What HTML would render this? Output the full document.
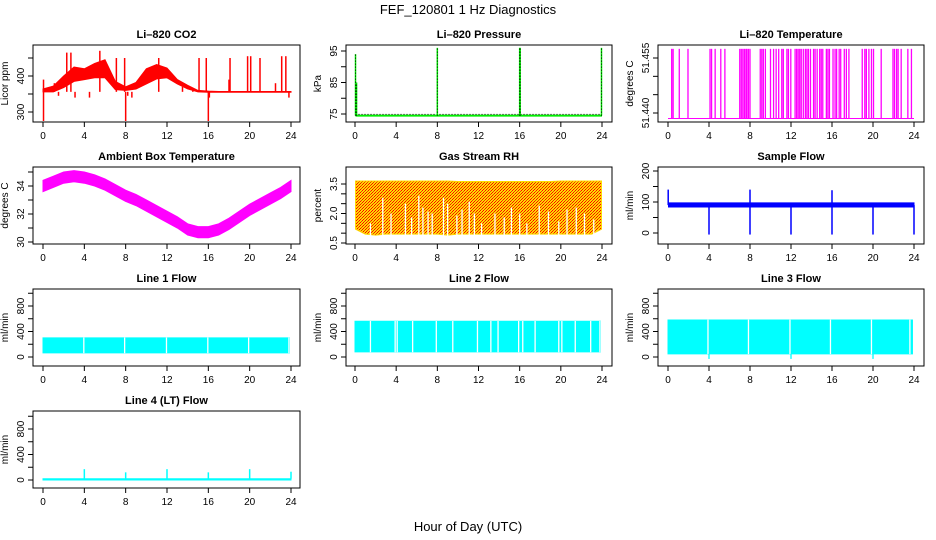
<!DOCTYPE html>
<html><head><meta charset="utf-8">
<style>
html,body{margin:0;padding:0;background:#fff;}
svg{display:block;font-family:"Liberation Sans",Arial,sans-serif;}
</style></head>
<body>
<svg id="fig" width="936" height="540" viewBox="0 0 936 540" xmlns="http://www.w3.org/2000/svg">
<defs>
<pattern id="rhpat" width="3" height="3" patternUnits="userSpaceOnUse">
<rect width="3" height="3" fill="#ffd800"/>
<rect x="0" y="0" width="1" height="1" fill="#f00"/>
<rect x="2" y="1" width="1" height="1" fill="#f00"/>
<rect x="1" y="2" width="1" height="1" fill="#e04000"/>
</pattern>
</defs>
<text x="468" y="14" font-size="13" text-anchor="middle">FEF_120801  1 Hz Diagnostics</text>
<text x="468" y="531" font-size="13" text-anchor="middle">Hour of Day (UTC)</text>
</svg>
<script>
// ---------- data ----------
const hourCats = [0,1,2,3,4,5,6,7,8,9,10,11,12,13,14,15,16,17,18,19,20,21,22,23,24];
const co2Lo = [356,356,368,385,390,395,395,362,360,364,378,392,395,378,364,356,355,355,355,355,355,355,355,355,355];
const co2Hi = [364,372,400,425,420,435,445,385,370,382,420,432,422,390,374,360,358,357,357,357,357,357,357,357,357];
const co2SpikeT = [0.05,0.05,1.1,1.5,2.3,2.7,3.1,4.5,5.5,7.1,7.9,8.0,8.2,8.6,11.2,13.5,14.5,15.1,15.8,16.0,16.1,18.0,18.1,19.8,20.1,21.0,22.5,23.1,23.5,23.8];
const co2SpikeV = [390,275,380,345,465,465,340,340,470,450,450,275,345,340,450,370,360,450,450,275,340,390,450,455,455,450,380,455,455,340];
const presBase = 74.5;
const presSpikeT = [0.05,0.15,8.0,16.0,16.05,23.95];
const presSpikeV = [94,85,96,96,96,96];
const tempBase = 51.4385;
const tempTop = 51.4575;
const tempSpikeT = [0.36,0.5,1.1,1.95,4.1,4.25,4.6,5.15,5.55,7.0,7.15,7.3,7.45,7.6,7.7,7.85,8.0,9.0,9.15,9.3,9.5,10.0,10.3,10.55,10.8,11.1,11.25,11.6,11.75,11.98,12.4,12.55,12.7,12.85,13.0,13.2,13.4,13.55,13.7,13.9,14.2,14.35,14.55,14.8,14.95,15.1,15.45,15.6,15.75,16.1,16.3,16.45,16.7,16.85,17.2,17.4,17.65,18.95,19.2,19.35,19.6,19.85,20.05,20.8,21.95,22.1,22.3,22.45,22.75,23.4,23.75];
const ambMid = [34.0,34.3,34.6,34.7,34.6,34.4,34.1,33.7,33.3,33.0,32.6,32.2,31.8,31.4,30.9,30.7,30.7,30.9,31.3,31.8,32.3,32.7,33.1,33.5,34.0];
const ambHalf = 0.4;
const rhLo = [1.2,0.95,0.9,0.95,0.95,0.95,0.95,0.95,0.95,0.9,0.95,0.95,0.95,0.95,0.95,0.95,0.95,0.95,0.95,0.95,0.95,0.95,0.95,0.95,1.2];
const rhHi = [3.65,3.65,3.65,3.65,3.65,3.65,3.65,3.65,3.65,3.65,3.63,3.63,3.63,3.63,3.63,3.63,3.63,3.63,3.63,3.63,3.65,3.65,3.65,3.65,3.65];
const rhGapT = [1.5,2.7,3.5,4.9,5.5,6.2,6.6,7.1,7.5,8.6,9.0,9.9,10.4,11.1,11.6,12.3,13.6,14.5,15.2,16.0,16.7,17.9,18.8,19.8,20.6,21.5,22.3,23.2];
const rhGapV = [1.5,2.8,2.0,2.5,1.8,2.9,2.3,2.1,2.0,2.8,2.5,1.9,2.2,2.6,2.0,1.5,2.0,1.8,2.3,2.0,1.5,2.4,2.1,1.6,2.2,2.3,2.0,1.7];
const sfLo = 84, sfHi = 97;
const sfSpikeT = [0.02,4.0,8.0,8.0,12.0,16.0,16.0,20.0,24.0];
const sfSpikeV = [140,-5,140,-5,-5,138,-5,-5,-5];
const l1Lo = 65, l1Hi = 300;
const l1GapT = [3.95,7.9,11.95,15.95,19.9,23.8];
const l2Lo = 80, l2Hi = 560;
const l2GapT = [1.5,3.9,4.1,5.6,7.9,9.5,11.9,13.2,13.9,15.9,16.3,17.5,19.8,20.1,21.4,22.9,23.8];
const l3Lo = 50, l3Hi = 580;
const l3GapT = [3.9,7.85,11.9,15.85,19.85,23.6];
const l3DipT = [4.0,12.0,20.0];
const l3DipV = [-30,-30,-30];
const l4Lo = 0, l4Hi = 20;
const l4SpikeT = [4.0,8.0,12.0,16.0,20.0,24.0];
const l4SpikeV = [170,120,170,120,170,130];
const xTicks = [0,4,8,12,16,20,24];

// ---------- layout ----------
const svg = document.getElementById('fig');
const NS = 'http://www.w3.org/2000/svg';
const cols = [{bl:33,br:300,x0:43,x24:291},{bl:346,br:612,x0:355,x24:602},{bl:658,br:924,x0:668,x24:914}];
const rows = [{t:45,b:122},{t:167,b:244},{t:289,b:366},{t:411,b:488}];
function mk(tag, attrs, parent){const e=document.createElementNS(NS,tag);for(const k in attrs)e.setAttribute(k,attrs[k]);(parent||svg).appendChild(e);return e;}

function panel(name,title,ylab,c,r,v1,y1,v2,y2,ticks,labels){
  const col=cols[c],row=rows[r];
  const g=mk('g',{});
  
  
  const p={g:g,col:col,row:row};
  p.x=t=>col.x0+(col.x24-col.x0)*t/24;
  p.y=v=>y1+(y2-y1)*(v-v1)/(v2-v1);
  const box=mk('rect',{x:col.bl,y:row.t,width:col.br-col.bl,height:row.b-row.t,fill:'none',stroke:'#000','stroke-width':1},g);
  
  
  const tt=mk('text',{x:(col.bl+col.br)/2,y:row.t-7,'font-size':11,'font-weight':'bold','text-anchor':'middle'},g);
  tt.textContent=title;
  
  
  const xa=mk('g',{},g);
  
  
  mk('line',{x1:p.x(0),x2:p.x(24),y1:row.b,y2:row.b,stroke:'#000'},xa);
  xTicks.forEach(t=>{
    mk('line',{x1:p.x(t),x2:p.x(t),y1:row.b,y2:row.b+5,stroke:'#000'},xa);
    const lt=mk('text',{x:p.x(t),y:row.b+17,'font-size':10,'text-anchor':'middle'},xa);
    lt.textContent=t;
  });
  const ya=mk('g',{},g);
  
  
  mk('line',{x1:col.bl,x2:col.bl,y1:p.y(ticks[0]),y2:p.y(ticks[ticks.length-1]),stroke:'#000'},ya);
  ticks.forEach(v=>{
    mk('line',{x1:col.bl-5,x2:col.bl,y1:p.y(v),y2:p.y(v),stroke:'#000'},ya);
  });
  labels.forEach(v=>{
    const yy=p.y(v), xx=col.bl-9;
    const lt=mk('text',{x:xx,y:yy,'font-size':10,'text-anchor':'middle',transform:'rotate(-90 '+xx+' '+yy+')'},ya);
    lt.textContent=(name==='li820-temperature')?v.toFixed(3):(name==='gas-stream-rh'?v.toFixed(1):v);
  });
  const yl=col.bl-25, ym=(row.t+row.b)/2;
  const yt=mk('text',{x:yl,y:ym,'font-size':10,'text-anchor':'middle',transform:'rotate(-90 '+yl+' '+ym+')'},g);
  yt.textContent=ylab;
  
  
  return p;
}
function band(p,name,ts,lo,hi,color,fill){
  let d='M'+ts.map((t,i)=>p.x(t)+','+p.y(hi[i])).join('L');
  d+='L'+ts.slice().reverse().map((t,i)=>p.x(t)+','+p.y(lo[ts.length-1-i])).join('L')+'Z';
  const e=mk('path',{d:d,fill:fill||color,stroke:color,'stroke-width':1},p.g);
  
  
  return e;
}
function spikes(p,name,ts,vs,base,color,w,dash){
  ts.forEach((t,i)=>{
    const e=mk('line',{x1:p.x(t),x2:p.x(t),y1:p.y(base),y2:p.y(vs[i]),stroke:color,'stroke-width':w||1},p.g);
    if(dash)e.setAttribute('stroke-dasharray',dash);
    
    
  });
}
function flat(p,lo,hi){return [hourCats.map(()=>lo),hourCats.map(()=>hi)];}

// ---- CO2
let p=panel('li820-co2','Li\u2013820 CO2','Licor ppm',0,0,300,112,400,76,[300,350,400,450],[300,400]);
band(p,'co2-series',hourCats,co2Lo,co2Hi,'#ff0000');
spikes(p,'co2-spike',co2SpikeT,co2SpikeV,356,'#ff0000',1.5);
// ---- Pressure
p=panel('li820-pressure','Li\u2013820 Pressure','kPa',1,0,75,114,95,51,[75,80,85,90,95],[75,85,95]);
mk('line',{x1:p.x(0.05),x2:p.x(24),y1:p.y(presBase),y2:p.y(presBase),stroke:'#00ee00','stroke-width':2},p.g);
mk('line',{x1:p.x(0.05),x2:p.x(24),y1:p.y(presBase+0.4),y2:p.y(presBase+0.4),stroke:'#000','stroke-width':1,'stroke-dasharray':'1,2'},p.g);
spikes(p,'pressure-spike',presSpikeT,presSpikeV,presBase,'#00ee00',1.5);
spikes(p,'pressure-spike-dotted',presSpikeT,presSpikeV,presBase,'#000',1,'1,2');
// ---- Temperature
p=panel('li820-temperature','Li\u2013820 Temperature','degrees C',2,0,51.440,113,51.455,58,[51.440,51.445,51.450,51.455],[51.440,51.455]);
mk('line',{x1:p.x(0),x2:p.x(24),y1:p.y(tempBase),y2:p.y(tempBase),stroke:'#ff00ff','stroke-width':1},p.g);
spikes(p,'temperature-spike',tempSpikeT,tempSpikeT.map(()=>tempTop),tempBase,'#ff00ff',1.3);
// ---- Ambient
p=panel('ambient-box-temperature','Ambient Box Temperature','degrees C',0,1,30,242,34,186,[30,31,32,33,34,35],[30,32,34]);
band(p,'ambient-series',hourCats,ambMid.map(v=>v-ambHalf),ambMid.map(v=>v+ambHalf),'#ff00ff');
// ---- RH
p=panel('gas-stream-rh','Gas Stream RH','percent',1,1,0.5,243,3.5,184,[0.5,1.0,1.5,2.0,2.5,3.0,3.5],[0.5,2.0,3.5]);
band(p,'rh-series',hourCats.map(t=>Math.min(Math.max(t,0.05),23.95)),rhLo,rhHi,'#ffd800','url(#rhpat)');
spikes(p,'rh-gap',rhGapT,rhGapV,0.8,'#fff',1.3);
// ---- Sample flow
p=panel('sample-flow','Sample Flow','ml/min',2,1,0,233,200,171,[0,50,100,150,200],[0,100,200]);
let f=flat(p,sfLo,sfHi);
band(p,'sample-flow-series',hourCats.map(t=>Math.max(t,0.05)),f[0],f[1],'#0000ff');
spikes(p,'sample-flow-spike',sfSpikeT,sfSpikeV,90,'#0000ff',1.5);
// ---- Line flows
const flowTicks=[0,200,400,600,800,1000], flowLabels=[0,400,800];
function linePanel(name,title,c,r,y0,y800,lo,hi,gaps){
  const q=panel(name,title,'ml/min',c,r,0,y0,800,y800,flowTicks,flowLabels);
  const ff=flat(q,lo,hi);
  band(q,name+'-series',hourCats.map(t=>Math.min(t,23.85)),ff[0],ff[1],'#00ffff');
  spikes(q,name+'-gap',gaps,gaps.map(()=>hi+5),lo-5,'#fff',1.3);
  return q;
}
linePanel('line-1-flow','Line 1 Flow',0,2,357,306,l1Lo,l1Hi,l1GapT);
linePanel('line-2-flow','Line 2 Flow',1,2,357,306,l2Lo,l2Hi,l2GapT);
p=linePanel('line-3-flow','Line 3 Flow',2,2,357,306,l3Lo,l3Hi,l3GapT);
spikes(p,'line-3-dip',l3DipT,l3DipV,l3Lo,'#00ffff',1.3);
p=panel('line-4-flow','Line 4 (LT) Flow','ml/min',0,3,0,480,800,429,flowTicks,flowLabels);
f=flat(p,l4Lo,l4Hi);
band(p,'line-4-flow-series',hourCats,f[0],f[1],'#00ffff');
spikes(p,'line-4-spike',l4SpikeT,l4SpikeV,l4Hi,'#00ffff',1.5);
</script>
</body></html>
